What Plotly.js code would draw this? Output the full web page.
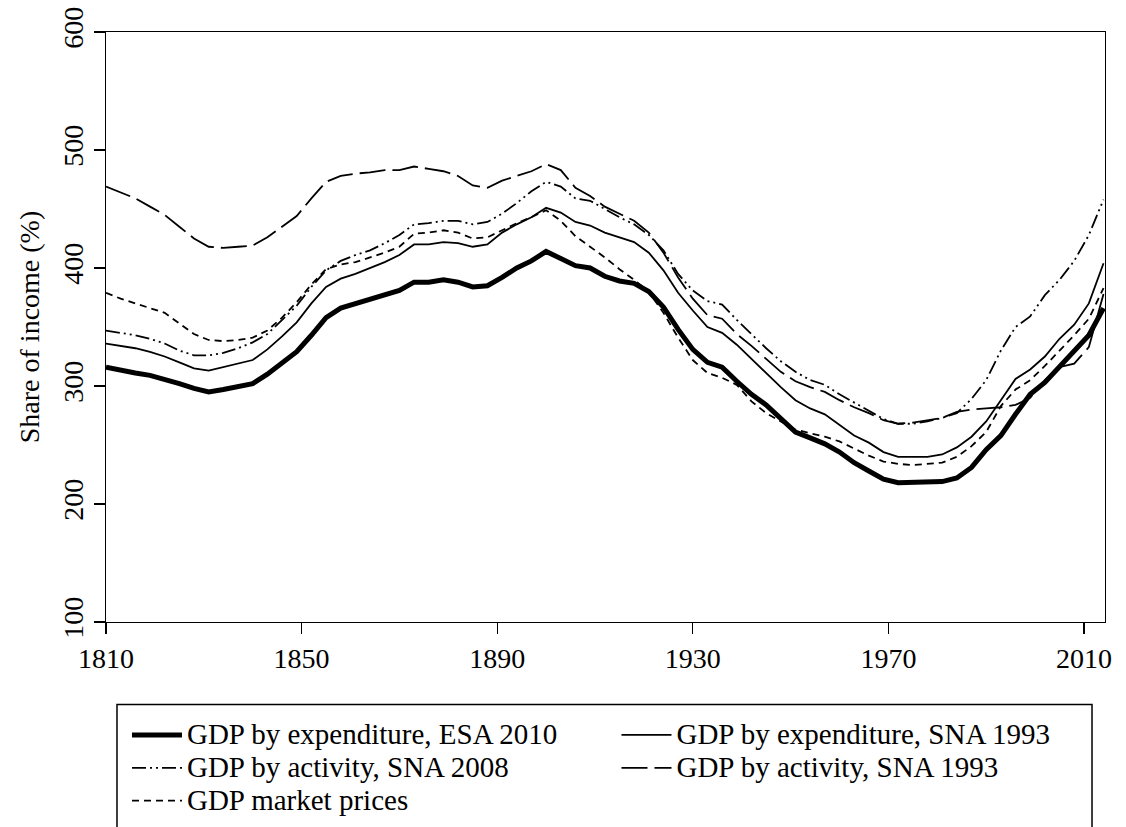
<!DOCTYPE html>
<html>
<head>
<meta charset="utf-8">
<script src="https://cdn.plot.ly/plotly-3.0.1.min.js"></script>
<style>
body{margin:0;background:#fff;overflow:hidden}
</style>
</head>
<body>
<div id="chart" style="width:1126px;height:880px"></div>
<script>
// years on a 3-year grid (share of income, %)
var years = [1810,1813,1816,1819,1822,1825,1828,1831,1834,1837,1840,1843,1846,1849,1852,1855,1858,1861,1864,1867,
  1870,1873,1876,1879,1882,1885,1888,1891,1894,1897,1900,1903,1906,1909,1912,1915,1918,1921,1924,1927,
  1930,1933,1936,1939,1942,1945,1948,1951,1954,1957,1960,1963,1966,1969,1972,1975,1978,1981,1984,1987,
  1990,1993,1996,1999,2002,2005,2008,2011,2014];

var expEsa2010 = [316,313,311,309,306,302,298,295,297,300,302,310,319,329,343,358,366,370,374,377,
  381,388,388,390,388,384,385,392,400,406,414,408,402,400,393,389,387,380,367,348,
  331,320,316,304,293,284,272,261,256,251,244,235,228,221,218,218,218,219,222,231,
  246,258,276,293,303,316,329,343,366];

var expSna1993 = [336,334,332,329,325,320,315,313,316,319,322,331,342,354,370,384,391,395,400,405,
  411,420,420,422,421,418,420,430,437,443,451,447,439,436,430,426,422,413,398,379,
  364,350,345,335,323,311,299,288,281,276,267,258,252,244,240,240,240,242,248,257,
  270,288,306,314,325,340,352,370,404];

var actSna2008 = [347,345,343,340,336,330,326,326,328,332,337,344,356,368,384,398,406,411,415,421,
  428,437,438,440,440,437,439,446,455,465,473,469,459,457,450,443,437,428,415,395,
  381,372,369,356,344,332,321,312,305,301,293,286,279,272,268,268,270,273,277,289,
  305,330,350,359,377,390,406,428,458];

var actSna1993 = [469,464,459,452,445,435,425,418,417,418,419,426,435,444,459,473,478,480,481,483,
  483,486,484,482,478,470,468,474,478,482,488,483,468,461,452,446,440,430,413,392,
  374,360,357,344,334,323,312,304,299,295,288,282,277,271,268,269,271,273,278,280,
  281,282,284,290,305,316,319,333,378];

var marketPrices = [379,374,370,366,362,353,344,339,338,339,341,347,358,371,386,399,403,405,409,413,
  418,429,430,432,430,425,426,432,438,443,449,440,427,418,409,399,390,380,362,341,
  322,311,307,301,287,277,270,263,260,257,253,247,241,236,234,233,234,235,240,249,
  261,283,297,305,317,330,343,357,383];

var seriesNames = [
  "GDP by expenditure, ESA 2010",
  "GDP by expenditure, SNA 1993",
  "GDP by activity, SNA 2008",
  "GDP by activity, SNA 1993",
  "GDP market prices"
];
var xTicks = [1810, 1850, 1890, 1930, 1970, 2010];
var yTicks = [100, 200, 300, 400, 500, 600];

var serif = "Liberation Serif";

function label(s) {
  return '<span style="font-size:29px">' + s + '</span>';
}

function line(y, idx, width, dash) {
  return {
    type: "scatter",
    mode: "lines",
    x: years,
    y: y,
    name: label(seriesNames[idx]),
    legendrank: idx + 1,
    line: { color: "#000", width: width, dash: dash },
    hoverinfo: "x+y"
  };
}

var data = [
  line(actSna1993, 3, 1.8, "26px,7px"),
  line(actSna2008, 2, 1.8, "14px,4px,2px,4px,2px,4px"),
  line(marketPrices, 4, 1.8, "7px,5px"),
  line(expSna1993, 1, 1.8, "solid"),
  line(expEsa2010, 0, 5, "solid")
];

function axisStyle() {
  return {
    showline: true,
    mirror: true,
    linecolor: "#000",
    linewidth: 1.3,
    ticks: "outside",
    ticklen: 11,
    tickwidth: 1.3,
    tickcolor: "#000",
    showgrid: false,
    zeroline: false,
    tickfont: { family: serif, size: 28, color: "#000" }
  };
}

// page is photographed at 827px high; the figure runs a little longer so the
// legend frame is cut at the bottom edge like the original
var layout = {
  width: 1126,
  height: 880,
  margin: { l: 106, r: 21, t: 32, b: 258 },
  font: { family: serif, size: 28, color: "#000" },
  showlegend: true,
  xaxis: Object.assign(axisStyle(), {
    range: [1810, 2014.3],
    tickvals: xTicks
  }),
  yaxis: Object.assign(axisStyle(), {
    range: [100, 600],
    tickvals: yTicks,
    tickangle: -90,
    title: { text: "Share of income (%)", font: { family: serif, size: 28, color: "#000" }, standoff: 9 }
  }),
  legend: {
    orientation: "h",
    traceorder: "normal",
    x: 0.021,
    xanchor: "left",
    y: -0.155,
    yanchor: "top",
    itemwidth: 50,
    entrywidth: 0.49,
    entrywidthmode: "fraction",
    bgcolor: "rgba(0,0,0,0)",
    borderwidth: 0,
    font: { family: serif, size: 23, color: "#000" }
  },
  shapes: [
    {
      type: "rect",
      xref: "paper",
      yref: "paper",
      x0: 0.011,
      x1: 0.987,
      y0: -0.14,
      y1: -0.42,
      line: { color: "#000", width: 1.5 },
      fillcolor: "rgba(0,0,0,0)"
    }
  ]
};

Plotly.newPlot("chart", data, layout, { displayModeBar: false, staticPlot: true });
</script>
</body>
</html>
